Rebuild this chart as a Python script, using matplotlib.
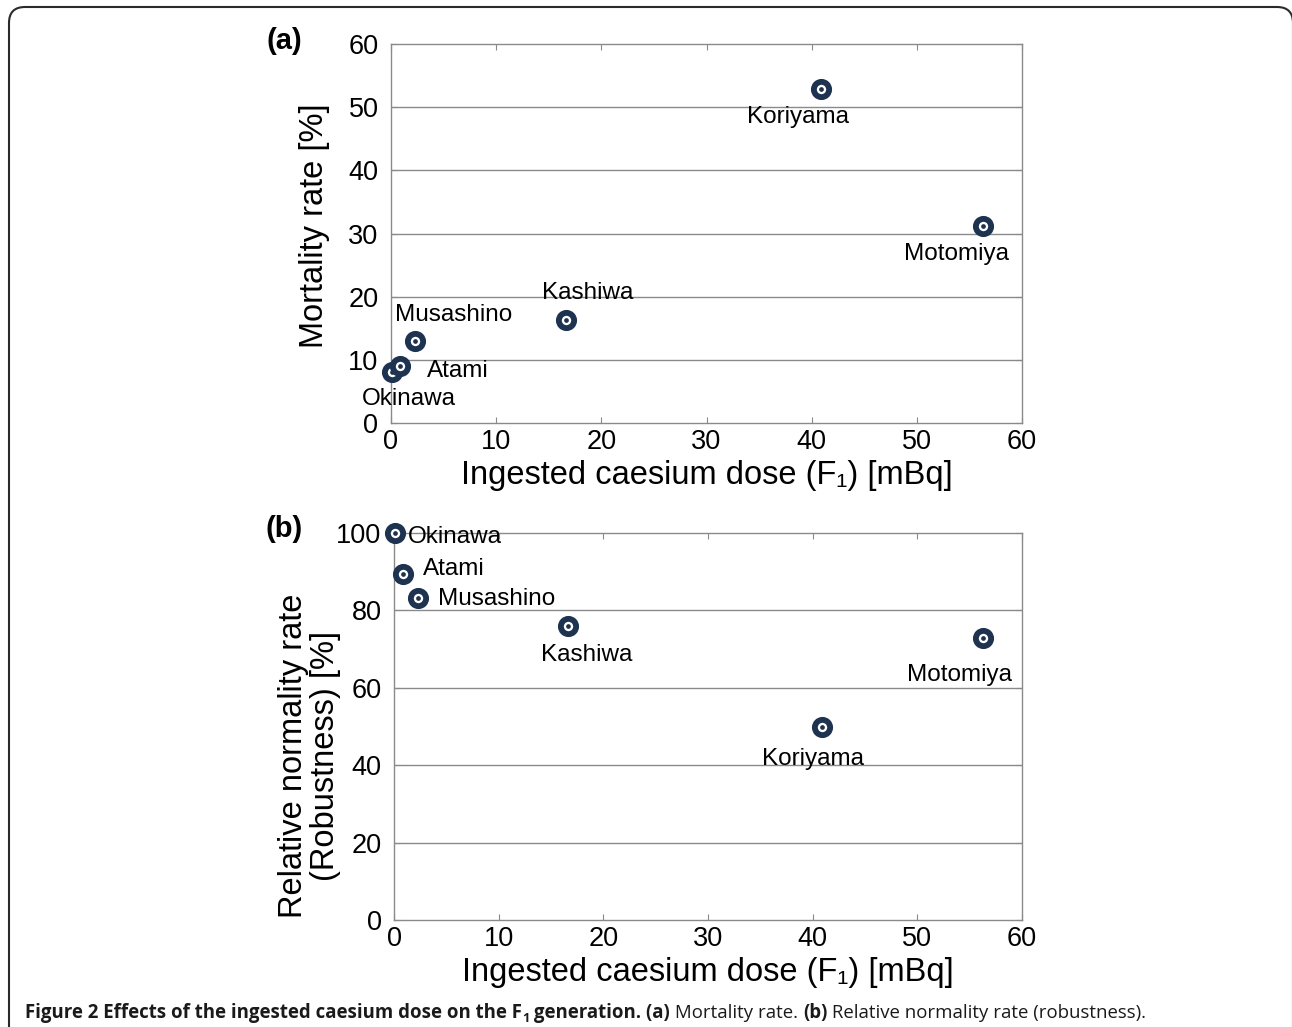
import numpy as np
import matplotlib
matplotlib.use('Agg')
import matplotlib.pyplot as plt
from matplotlib.patches import FancyBboxPatch

plt.rcParams['font.family'] = ['Liberation Sans', 'DejaVu Sans']

# values
sites = ['Okinawa', 'Atami', 'Musashino', 'Kashiwa', 'Koriyama', 'Motomiya']
dose = [0.1, 0.9, 2.3, 16.6, 40.9, 56.3]
mortality = [8.1, 9.0, 13.0, 16.3, 52.8, 31.2]
normality = [100.0, 89.4, 83.2, 76.0, 49.9, 72.9]

x_ticks = [0, 10, 20, 30, 40, 50, 60]
mort_ticks = [0, 10, 20, 30, 40, 50, 60]
norm_ticks = [0, 20, 40, 60, 80, 100]

# label offsets in pixels from each point (dx, dy)
offsets_a = [(17, -27), (57, -5), (38, 26), (22, 27), (-23, -28), (-27, -28)]
offsets_b = [(60, -4), (50, 5), (79, -1), (19, -29), (-9, -32), (-24, -37)]

NAVY = '#1e3350'
GRID = '#8a8a8a'
W, H = 1292, 1027

fig = plt.figure(figsize=(W / 100, H / 100), dpi=100)


def draw_panel(ax, y, yticks, ylim, offsets, ylabel, ylabel_xy):
    for yt in yticks[1:-1]:
        ax.axhline(yt, color=GRID, lw=1.0, zorder=1)
    ax.plot(dose, y, 'o', ms=11, mfc='white', mec=NAVY, mew=4.2, zorder=3, clip_on=False)
    ax.plot(dose, y, 'o', ms=3.4, mfc=NAVY, mec=NAVY, mew=0, zorder=4, clip_on=False)
    for name, xv, yv, (dx, dy) in zip(sites, dose, y, offsets):
        ax.annotate(name, (xv, yv), xytext=(dx, dy), textcoords='offset pixels',
                    ha='center', va='center', fontsize=17.5, zorder=5)
    ax.set_xlim(0, 60)
    ax.set_ylim(*ylim)
    ax.set_xticks(x_ticks)
    ax.set_yticks(yticks)
    ax.tick_params(direction='in', length=4, color=GRID, top=True, right=True,
                   labelsize=19.5, pad=4)
    ax.tick_params(axis='y', pad=9)
    for sp in ax.spines.values():
        sp.set_color(GRID)
        sp.set_linewidth(1.0)
    ax.set_xlabel('Ingested caesium dose (F\u2081) [mBq]', fontsize=23.5, labelpad=4)
    ax.set_ylabel(ylabel, fontsize=23.5, linespacing=1.05)
    ax.yaxis.set_label_coords(*ylabel_xy)


ax_a = fig.add_axes([391 / W, 1 - 423 / H, (1022 - 391) / W, (423 - 44) / H])
draw_panel(ax_a, mortality, mort_ticks, (0, 60), offsets_a,
           'Mortality rate [%]', (-0.097, 0.521))

ax_b = fig.add_axes([394 / W, 1 - 920 / H, (1022 - 394) / W, (920 - 533) / H])
draw_panel(ax_b, normality, norm_ticks, (0, 100), offsets_b,
           'Relative normality rate\n(Robustness) [%]', (-0.084, 0.424))

# overlay in pixel coordinates for border, panel letters and caption
ov = fig.add_axes([0, 0, 1, 1], zorder=10)
ov.set_xlim(0, W)
ov.set_ylim(H, 0)
ov.axis('off')
ov.patch.set_alpha(0)

ov.add_patch(FancyBboxPatch((9, 7), 1284, 1100, boxstyle='round,pad=0,rounding_size=16',
                            fill=False, ec='#2a2a2a', lw=1.5, clip_on=False))

ov.text(284, 41, '(a)', fontsize=21, fontweight='bold', ha='center', va='center')
ov.text(284, 529, '(b)', fontsize=21, fontweight='bold', ha='center', va='center')

cap_font = 'Open Sans'
cap_size = 13.45
pieces = [
    ('Figure 2 Effects of the ingested caesium dose on the F', 'bold', cap_size, 0),
    ('1', 'bold', cap_size * 0.68, 4),
    (' generation. (a)', 'bold', cap_size, 0),
    (' Mortality rate. ', 'normal', cap_size, 0),
    ('(b)', 'bold', cap_size, 0),
    (' Relative normality rate (robustness).', 'normal', cap_size, 0),
]
renderer = fig.canvas.get_renderer()
x = 25
base = 1018
for txt, wt, sz, dy in pieces:
    t = ov.text(x, base + dy, txt, fontsize=sz, fontweight=wt, family=cap_font,
                ha='left', va='baseline', color='#1a1a1a')
    bb = t.get_window_extent(renderer=renderer)
    x = bb.x1

fig.savefig('out.png', dpi=100)
